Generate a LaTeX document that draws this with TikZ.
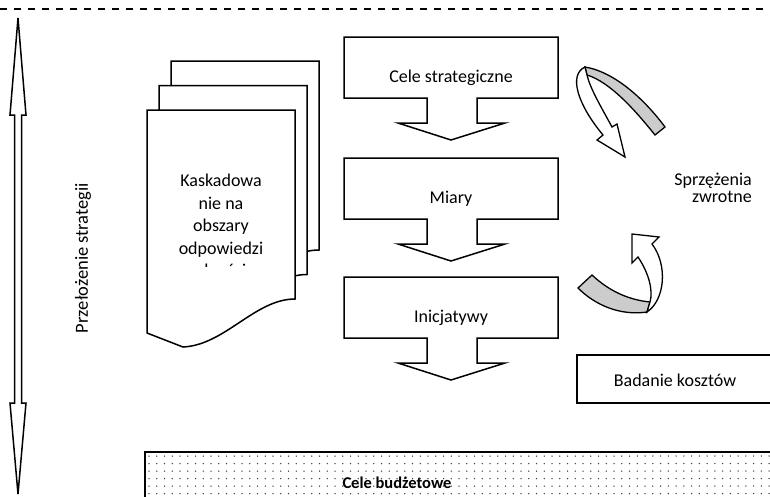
\documentclass[tikz,border=0pt]{standalone}
\usepackage{fontspec}
\setmainfont{Carlito}
\usepackage{tikz}
\usetikzlibrary{shapes,arrows,positioning,calc}

\tikzset{
  outline/.style={draw=black, line width=1.5pt, line join=miter},
  flowbox/.style={outline, fill=white},
  ribbon/.style={outline, line width=1.3pt, fill=gray!40},
  txt/.style={font=\fontsize{18}{22.5}\selectfont, inner sep=0pt}
}

\begin{document}
\begin{tikzpicture}[x=1pt,y=-1pt]
            \clip (0,0) rectangle (770,496);

            % dashed edge at the top
            \draw[line width=2pt, dash pattern=on 7pt off 7pt] (0,8.5) -- (770,8.5);

            % double arrow on the left
            \draw[outline] (18,18) -- (26,115) -- (21.5,115) -- (21.5,403) -- (26,403) -- (18,494)
                -- (10,403) -- (14.5,403) -- (14.5,115) -- (10,115) -- cycle;
            \node[txt, font=\fontsize{18.5}{22.5}\selectfont, rotate=90] (przelozenie) at (83,258) {Przełożenie strategii};

            % stack of documents
            \foreach \dx/\dy in {24/-49, 12/-24.5, 0/0}
                \draw[flowbox, shift={(\dx,\dy)}] (147,110) -- (295,110) -- (295,299)
                    .. controls (255,299) and (225,345) .. (183,347) -- (147,333) -- cycle;
            \begin{scope}
                \clip (147,110) rectangle (295,266);
                \node[txt, align=center, anchor=north] (kaskadowanie) at (221,174)
                    {Kaskadowa\\nie na\\obszary\\odpowiedzi\\alności};
            \end{scope}

            % strategy boxes with arrows
            \foreach \y/\name/\lbl in {37/cele/Cele strategiczne, 158/miary/Miary, 277/inicjatywy/Inicjatywy} {
                \draw[flowbox] (344,\y) -- (558,\y) -- (558,\y+61) -- (477,\y+61) -- (477,\y+86)
                    -- (505,\y+86) -- (451,\y+103) -- (398,\y+86) -- (427,\y+86) -- (427,\y+61)
                    -- (344,\y+61) -- cycle;
                \node[txt] (\name) at (451,\y+41) {\lbl};
            }

            % feedback arrows
            \draw[ribbon] (585,67) .. controls (615,72) and (645,100) .. (665,127) -- (655,135)
                .. controls (635,110) and (610,82) .. (587,75) -- cycle;
            \draw[outline, line width=1.3pt, fill=white] (585,67) .. controls (568,75) and (578,105) .. (603,135)
                -- (597,140) -- (625,157) -- (617,124) -- (612,127)
                .. controls (600,105) and (590,88) .. (587,75) -- cycle;
            \draw[ribbon] (578,288) -- (592,275) .. controls (610,292) and (630,300) .. (650,302)
                -- (647,312) .. controls (620,316) and (595,305) .. (578,288) -- cycle;
            \draw[outline, line width=1.3pt, fill=white] (647,312) .. controls (665,300) and (668,265) .. (652,244)
                -- (659,237) -- (632,234) -- (632,263) -- (638,257)
                .. controls (650,275) and (653,292) .. (650,302) -- cycle;
            \node[txt, font=\fontsize{18}{17}\selectfont, align=right, anchor=north east] (sprzezenia)
                at (752,173) {Sprzężenia\\zwrotne};

            % cost review
            \draw[flowbox] (577,355) rectangle (780,403);
            \node[txt] (badanie) at (675,380) {Badanie kosztów};

            % budget goals, dotted
            \draw[flowbox] (145,452) rectangle (780,510);
            \foreach \i in {0,...,80}
                \foreach \j in {0,...,5}
                    \fill[black!75] (149+\i*7.75,456+\j*7.5) circle (0.75pt);
            \node[txt, font=\bfseries\fontsize{16.5}{20}\selectfont] (budzet) at (397,483) {Cele budżetowe};
        \end{tikzpicture}
\end{document}
